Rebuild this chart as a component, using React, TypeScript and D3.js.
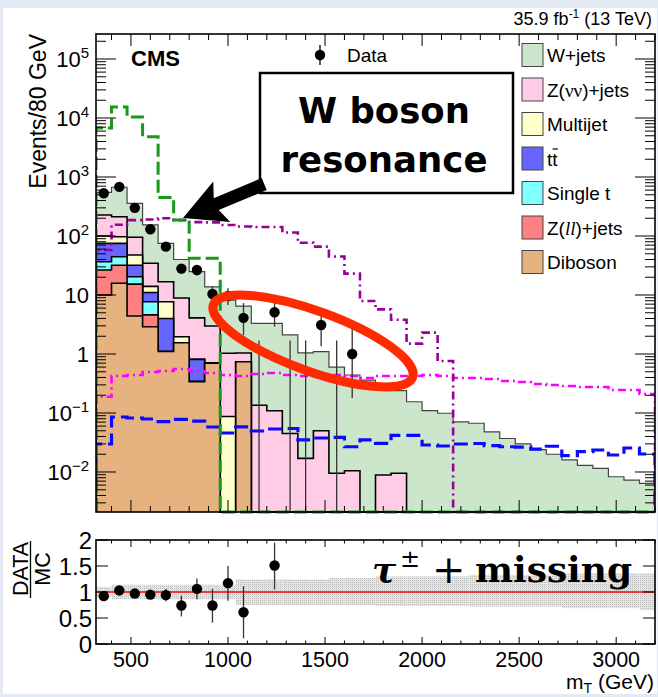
import React from 'react';
import * as d3 from 'd3';

// ---------- data (80 GeV bins from 320 to 3200 GeV) ----------
const binEdges = d3.range(320, 3201, 80);

const wjets = [323, 458, 262, 119.5, 58.2, 31.1, 20.9, 10.8, 7.17, 5.46, 3.17, 3.19, 2.06, 1.03, 1.05, 0.59, 0.43, 0.36, 0.271, 0.23, 0.155, 0.11, 0.099, 0.071, 0.067, 0.048, 0.037, 0.03, 0.024, 0.02, 0.016, 0.013, 0.0115, 0.0083, 0.0073, 0.0064];
const zvv = [127, 115, 47.4, 20.5, 9.1, 6.94, 3.29, 2.28, 0.94, 0.3, 0.135, 0.109, 0.045, 0.017, 0.05, 0.0095, 0.0105, 0, 0.0089, 0.0095, 0, 0, 0, 0, 0, 0, 0, 0, 0, 0, 0, 0, 0, 0, 0, 0];
const multijet = [25, 22, 15.6, 3, 3.7, 0.41, 0, 0, 0.087, 0, 0, 0, 0, 0, 0, 0, 0, 0, 0, 0, 0, 0, 0, 0, 0, 0, 0, 0, 0, 0, 0, 0, 0, 0, 0, 0];
const ttbar = [38.4, 30.4, 11.6, 3.3, 2.9, 0, 0.47, 0, 0, 0, 0, 0, 0, 0, 0, 0, 0, 0, 0, 0, 0, 0, 0, 0, 0, 0, 0, 0, 0, 0, 0, 0, 0, 0, 0, 0];
const singleT = [10.1, 12.6, 5.1, 3.1, 0, 0, 0, 0, 0, 0, 0, 0, 0, 0, 0, 0, 0, 0, 0, 0, 0, 0, 0, 0, 0, 0, 0, 0, 0, 0, 0, 0, 0, 0, 0, 0];
const zll = [16.5, 16.2, 10.9, 1.7, 0, 0, 0, 0, 0, 0, 0, 0, 0, 0, 0, 0, 0, 0, 0, 0, 0, 0, 0, 0, 0, 0, 0, 0, 0, 0, 0, 0, 0, 0, 0, 0];
const diboson = [10, 15.8, 4.4, 2.9, 1.1, 1.55, 0.34, 0.7, 0, 0.74, 0, 0, 0, 0, 0, 0, 0, 0, 0, 0, 0, 0, 0, 0, 0, 0, 0, 0, 0, 0, 0, 0, 0, 0, 0, 0];

const dataVals = [530, 680, 300, 130, 66, 28, 26.5, 10.4, 9.6, 4.1, 0, 5.1, 0, 0, 3.1, 0, 1.0];
const dataLo = [507, 654, 283, 119, 58, 23, 21.5, 7.3, 6.8, 2.1, 0, 2.9, 0, 0, 1.35, 0, 0.18];
const dataHi = [553, 706, 317, 141, 74, 33.5, 32, 14, 13, 7.3, 1.7, 7.9, 1.7, 1.7, 4.6, 1.7, 2.76];

const sigGreen = [6800, 15400, 10400, 4800, 450, 187, 42, 42, 0, 0, 0, 0, 0, 0, 0, 0, 0, 0, 0, 0, 0, 0, 0, 0, 0, 0, 0, 0, 0, 0, 0, 0, 0, 0, 0, 0];
const sigPurple = [58, 155, 186, 190, 200, 186, 172, 170, 154, 145, 142, 142, 115, 77, 66, 45, 23, 7.9, 5.7, 3.8, 1.5, 2.3, 0.76, 0, 0, 0, 0, 0, 0, 0, 0, 0, 0, 0, 0, 0];
const sigMagenta = [0.189, 0.424, 0.441, 0.495, 0.515, 0.557, 0.515, 0.477, 0.441, 0.424, 0.458, 0.477, 0.441, 0.424, 0.408, 0.441, 0.424, 0.392, 0.424, 0.424, 0.424, 0.441, 0.424, 0.392, 0.392, 0.377, 0.349, 0.335, 0.31, 0.298, 0.287, 0.276, 0.276, 0.245, 0.245, 0.21];
const sigBlue = [0.0298, 0.0855, 0.0822, 0.0791, 0.0712, 0.0782, 0.0731, 0.0579, 0.0458, 0.058, 0.0495, 0.0536, 0.0546, 0.0349, 0.0377, 0.0385, 0.0268, 0.0349, 0.0306, 0.0416, 0.0416, 0.0287, 0.0276, 0.0298, 0.0304, 0.0281, 0.0268, 0.0265, 0.0245, 0.0273, 0.019, 0.0221, 0.0236, 0.0194, 0.0255, 0.0202];

const ratioVals = [0.92, 1.03, 0.97, 0.95, 0.94, 0.74, 1.06, 0.74, 1.17, 0.61, null, 1.51];
const ratioLo = [0.88, 0.99, 0.91, 0.87, 0.82, 0.53, 0.86, 0.41, 0.83, 0.11, null, 1.05];
const ratioHi = [0.96, 1.07, 1.03, 1.03, 1.06, 0.93, 1.26, 1.06, 1.5, 1.11, null, 1.95];
const bandUp = [0.1, 0.14, 0.14, 0.14, 0.14, 0.14, 0.14, 0.14, 0.14, 0.24, 0.24, 0.24, 0.24, 0.24, 0.24, 0.27, 0.27, 0.27, 0.3, 0.3, 0.3, 0.3, 0.3, 0.3, 0.33, 0.33, 0.33, 0.33, 0.33, 0.33, 0.36, 0.36, 0.36, 0.36, 0.36, 0.36];
const bandDn = [0.1, 0.14, 0.14, 0.14, 0.14, 0.14, 0.14, 0.14, 0.14, 0.25, 0.25, 0.25, 0.25, 0.25, 0.25, 0.25, 0.25, 0.25, 0.27, 0.27, 0.27, 0.27, 0.27, 0.27, 0.28, 0.28, 0.28, 0.28, 0.28, 0.28, 0.31, 0.31, 0.31, 0.31, 0.31, 0.35];

const xTickLabels = [500, 1000, 1500, 2000, 2500, 3000];
const ratioTickLabels = [0, 0.5, 1, 1.5, 2];
const yExponents = [5, 4, 3, 2, 1, 0, -1, -2];

const compColors = {
  wjets: '#cce6cc', zvv: '#ffcce6', multijet: '#ffffcc', ttbar: '#6666ff',
  singleT: '#80ffff', zll: '#ff8080', diboson: '#e6b380',
};

const SANS = "'Liberation Sans', Arial, Helvetica, sans-serif";

export default function App() {
  const X0 = 96, X1 = 655, Y0 = 34, Y1 = 512, RY0 = 540, RY1 = 644;
  const x = d3.scaleLinear().domain([320, 3200]).range([X0, X1]);
  const y = d3.scaleLog().domain([Math.pow(10, -2.678), Math.pow(10, 5.424)]).range([Y1, Y0]);
  const ry = d3.scaleLinear().domain([0, 2]).range([RY1, RY0]);
  const yc = (v: number) => (v > 0 ? Math.max(Y0 - 5, Math.min(Y1, y(v))) : Y1);

  const step = (vals: number[]) => {
    let d = `M${x(binEdges[0])},${Y1}`;
    vals.forEach((v, i) => {
      const yy = yc(v);
      d += `L${x(binEdges[i])},${yy}L${x(binEdges[i + 1])},${yy}`;
    });
    d += `L${x(binEdges[vals.length])},${Y1}`;
    return d;
  };

  const comps = [
    { vals: diboson, color: compColors.diboson },
    { vals: zll, color: compColors.zll },
    { vals: singleT, color: compColors.singleT },
    { vals: ttbar, color: compColors.ttbar },
    { vals: multijet, color: compColors.multijet },
    { vals: zvv, color: compColors.zvv },
    { vals: wjets, color: compColors.wjets },
  ];
  const cumAll: number[][] = [];
  comps.forEach((c, k) => {
    cumAll.push(c.vals.map((v, i) => v + (k > 0 ? cumAll[k - 1][i] : 0)));
  });

  const xTicks = d3.range(400, 3201, 100);
  const yTicks: { v: number; major: boolean }[] = [];
  for (let e = -3; e <= 5; e++) {
    for (let m = 1; m <= 9; m++) {
      const v = m * Math.pow(10, e);
      const yy = y(v);
      if (yy <= Y1 && yy >= Y0) yTicks.push({ v, major: m === 1 });
    }
  }

  const legendEntries = [
    { key: 'w', color: compColors.wjets },
    { key: 'zvv', color: compColors.zvv },
    { key: 'mj', color: compColors.multijet },
    { key: 'tt', color: compColors.ttbar },
    { key: 'st', color: compColors.singleT },
    { key: 'zll', color: compColors.zll },
    { key: 'db', color: compColors.diboson },
  ];
  const legendLabel = (k: string) => {
    switch (k) {
      case 'w': return <>W+jets</>;
      case 'zvv': return <>Z(<tspan fontFamily="'Liberation Serif', serif" fontSize={19}>νν</tspan>)+jets</>;
      case 'mj': return <>Multijet</>;
      case 'tt': return <>tt</>;
      case 'st': return <>Single t</>;
      case 'zll': return <>Z(<tspan fontFamily="'Liberation Serif', serif" fontStyle="italic">ll</tspan>)+jets</>;
      default: return <>Diboson</>;
    }
  };

  // arrow geometry (annotation)
  const tip = [183, 218];
  const ang = Math.atan2(-33, 79);
  const u = [Math.cos(ang), Math.sin(ang)];
  const n = [-Math.sin(ang), Math.cos(ang)];
  const P = (a: number, b: number) => `${tip[0] + a * u[0] + b * n[0]},${tip[1] + a * u[1] + b * n[1]}`;
  const arrowPts = [P(0, 0), P(42, -22), P(36, -6.5), P(88, -6.5), P(88, 6.5), P(36, 6.5), P(42, 22)].join(' ');

  return (
    <div style={{ position: 'absolute', left: 0, top: 0 }}>
      <svg width={658} height={697} fontFamily={SANS} style={{ display: 'block' }}>
        <defs>
          <clipPath id="mainclip"><rect x={X0} y={Y0} width={X1 - X0} height={Y1 - Y0 + 2} /></clipPath>
          <clipPath id="ratioclip"><rect x={X0} y={RY0} width={X1 - X0} height={RY1 - RY0} /></clipPath>
          <pattern id="stip" width={2} height={2} patternUnits="userSpaceOnUse">
            <rect width={2} height={2} fill="#e4e4e4" />
            <rect width={1} height={1} fill="#bdbdbd" />
          </pattern>
        </defs>
        <rect width={658} height={697} fill="#e3eaf4" />
        <rect x={3} y={8} width={654} height={686} fill="#ffffff" />

        {/* ---------- main panel ---------- */}
        <g clipPath="url(#mainclip)">
          {cumAll.slice().reverse().map((c, ri) => {
            const k = cumAll.length - 1 - ri;
            const isW = k === cumAll.length - 1;
            return (
              <g key={k}>
                <path d={step(c) + 'Z'} fill={comps[k].color} stroke="none" />
                <path d={step(c)} fill="none" stroke={isW ? '#444' : '#000'} strokeWidth={isW ? 1.2 : 1.6} />
              </g>
            );
          })}
          <path d={step(sigBlue)} fill="none" stroke="#0a0aff" strokeWidth={3.2} strokeDasharray="14 6" />
          <path d={step(sigMagenta)} fill="none" stroke="#ff00ff" strokeWidth={2.6} strokeDasharray="8 4 2 4" />
          <path d={step(sigPurple)} fill="none" stroke="#990099" strokeWidth={2.6} strokeDasharray="8 4 2 4" />
          <path d={step(sigGreen)} fill="none" stroke="#17991a" strokeWidth={3} strokeDasharray="13 5" />

          {dataVals.map((v, i) => {
            const cx = x((binEdges[i] + binEdges[i + 1]) / 2);
            return (
              <g key={i}>
                <line x1={cx} x2={cx} y1={yc(dataHi[i])} y2={yc(dataLo[i])} stroke="#333" strokeWidth={1.3} />
                {v > 0 && <circle cx={cx} cy={y(v)} r={5.2} fill="#000" />}
              </g>
            );
          })}
        </g>

        {/* main ticks */}
        {xTicks.map((t) => {
          const L = t % 500 === 0 ? 12 : 6;
          return (
            <g key={t} stroke="#000" strokeWidth={1}>
              <line x1={x(t)} x2={x(t)} y1={Y1} y2={Y1 - L} />
              <line x1={x(t)} x2={x(t)} y1={Y0} y2={Y0 + L} />
            </g>
          );
        })}
        {yTicks.map((t, i) => {
          const L = t.major ? 20 : 10;
          const yy = y(t.v);
          return (
            <g key={i} stroke="#000" strokeWidth={1}>
              <line x1={X0} x2={X0 + L} y1={yy} y2={yy} />
              <line x1={X1} x2={X1 - L} y1={yy} y2={yy} />
            </g>
          );
        })}
        <rect x={X0} y={Y0} width={X1 - X0} height={Y1 - Y0} fill="none" stroke="#000" strokeWidth={1.6} />

        {/* y labels */}
        {yExponents.map((e) => {
          const yy = y(Math.pow(10, e)) + 8;
          if (e === 0) return <text key={e} x={89} y={yy} fontSize={22} textAnchor="end">1</text>;
          if (e === 1) return <text key={e} x={89} y={yy} fontSize={22} textAnchor="end">10</text>;
          return (
            <text key={e} x={89} y={yy} fontSize={22} textAnchor="end">
              10<tspan dy={-9} fontSize={15}>{e < 0 ? '\u2212' + -e : String(e)}</tspan>
            </text>
          );
        })}
        <text transform={`translate(46,${Y0}) rotate(-90)`} fontSize={23} textAnchor="end">Events/80 GeV</text>

        <text x={131} y={66} fontSize={22} fontWeight="bold">CMS</text>
        <text x={652} y={25} fontSize={18} textAnchor="end">
          35.9 fb<tspan dy={-7} fontSize={12}>-1</tspan><tspan dy={7}> (13 TeV)</tspan>
        </text>

        {/* legend */}
        <line x1={320} x2={320} y1={45} y2={65} stroke="#000" strokeWidth={1.3} />
        <circle cx={320} cy={55} r={5.2} fill="#000" />
        <text x={347} y={62} fontSize={19}>Data</text>
        {legendEntries.map((en, i) => {
          const cy = 55 + i * 34.5;
          return (
            <g key={en.key}>
              <rect x={522} y={cy - 11.5} width={21} height={23} fill={en.color} stroke="#444" strokeWidth={1} />
              <text x={547} y={cy + 7} fontSize={19}>{legendLabel(en.key)}</text>
              {en.key === 'tt' && <line x1={552.6} x2={558} y1={cy - 9.5} y2={cy - 9.5} stroke="#000" strokeWidth={1.2} />}
            </g>
          );
        })}

        {/* annotation */}
        <ellipse cx={313} cy={341} rx={106} ry={30} transform="rotate(20 313 341)" fill="none" stroke="#ff2a00" strokeWidth={9} />
        <rect x={260} y={73} width={253} height={120} fill="#fff" stroke="#000" strokeWidth={2.5} />
        <text x={384} y={123} fontSize={36} fontWeight="bold" fontFamily="'DejaVu Sans', sans-serif" textAnchor="middle" textLength={172} lengthAdjust="spacingAndGlyphs">W boson</text>
        <text x={384} y={172} fontSize={36} fontWeight="bold" fontFamily="'DejaVu Sans', sans-serif" textAnchor="middle" textLength={207} lengthAdjust="spacingAndGlyphs">resonance</text>
        <polygon points={arrowPts} fill="#000" />

        {/* ---------- ratio panel ---------- */}
        <g clipPath="url(#ratioclip)">
          {bandUp.map((up, i) => (
            <rect key={i} x={x(binEdges[i])} width={x(binEdges[i + 1]) - x(binEdges[i])} y={ry(1 + up)} height={ry(1 - bandDn[i]) - ry(1 + up)} fill="url(#stip)" />
          ))}
          <line x1={X0} x2={X1} y1={ry(1)} y2={ry(1)} stroke="#ff0000" strokeWidth={1.3} />
          {ratioVals.map((r, i) => {
            if (r === null) return null;
            const cx = x((binEdges[i] + binEdges[i + 1]) / 2);
            return (
              <g key={i}>
                <line x1={cx} x2={cx} y1={ry(ratioHi[i] as number)} y2={ry(ratioLo[i] as number)} stroke="#333" strokeWidth={1.3} />
                <circle cx={cx} cy={ry(r)} r={5.2} fill="#000" />
              </g>
            );
          })}
        </g>
        {xTicks.map((t) => {
          const L = t % 500 === 0 ? 7 : 3.5;
          return (
            <g key={t} stroke="#000" strokeWidth={1}>
              <line x1={x(t)} x2={x(t)} y1={RY1} y2={RY1 - L} />
              <line x1={x(t)} x2={x(t)} y1={RY0} y2={RY0 + L} />
            </g>
          );
        })}
        {ratioTickLabels.map((t) => (
          <g key={t} stroke="#000" strokeWidth={1}>
            <line x1={X0} x2={X0 + 12} y1={ry(t)} y2={ry(t)} />
            <line x1={X1} x2={X1 - 12} y1={ry(t)} y2={ry(t)} />
          </g>
        ))}
        <rect x={X0} y={RY0} width={X1 - X0} height={RY1 - RY0} fill="none" stroke="#000" strokeWidth={1.6} />
        {ratioTickLabels.map((t) => (
          <text key={t} x={92} y={ry(t) + 8.5} fontSize={24} textAnchor="end">{String(t)}</text>
        ))}
        {xTickLabels.map((t) => (
          <text key={t} x={x(t)} y={667} fontSize={21.5} textAnchor="middle">{t}</text>
        ))}
        <text x={654} y={689} fontSize={21} textAnchor="end">
          m<tspan dy={4} fontSize={14}>T</tspan><tspan dy={-4}> (GeV)</tspan>
        </text>
        <text transform="translate(28,569) rotate(-90)" fontSize={21.5} textAnchor="middle">DATA</text>
        <line x1={30.5} x2={30.5} y1={541} y2={598} stroke="#000" strokeWidth={1.3} />
        <text transform="translate(50,569) rotate(-90)" fontSize={21.5} textAnchor="middle">MC</text>

        <g fontFamily="'DejaVu Serif', 'Liberation Serif', serif" fill="#000">
          <text x={372} y={582} fontSize={36} fontStyle="italic" fontWeight="bold">τ</text>
          <text x={400} y={567} fontSize={24}>±</text>
          <text x={432} y={583} fontSize={40}>+</text>
          <text x={475} y={582} fontSize={36} fontWeight="bold" textLength={157} lengthAdjust="spacingAndGlyphs">missing</text>
        </g>
      </svg>
    </div>
  );
}
